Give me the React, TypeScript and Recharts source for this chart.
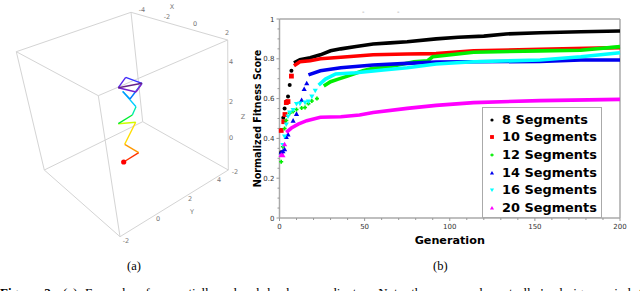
import { ScatterChart, Scatter, XAxis, YAxis, Legend, ReferenceLine } from 'recharts';

// Panel (b): fitness curves. Early generations are loose markers, the rest a thick run.
const segmentNames = ['8 Segments', '10 Segments', '12 Segments', '14 Segments', '16 Segments', '20 Segments'];
const segmentColors = ['#000000', '#ff0000', '#00ee00', '#0000ee', '#00ffff', '#ff00ff'];
const markerKinds = ['circle', 'square', 'plus', 'up', 'down', 'up'];

const blackEarlyGens = [1, 2.2, 3, 4, 5, 6, 7];
const blackEarlyScores = [0.33, 0.504, 0.55, 0.585, 0.61, 0.668, 0.74];
const blackGens = [8.5, 12, 18, 24, 30, 36, 45, 55, 65, 75, 92, 105, 120, 133, 153, 177, 200];
const blackScores = [0.78, 0.795, 0.805, 0.82, 0.84, 0.85, 0.862, 0.874, 0.88, 0.886, 0.9, 0.908, 0.914, 0.925, 0.931, 0.936, 0.94];

const redEarlyGens = [1, 2.5, 3.2, 4, 5, 7];
const redEarlyScores = [0.44, 0.484, 0.52, 0.58, 0.585, 0.713];
const redGens = [8.5, 12, 18, 24, 36, 55, 75, 92, 114, 153, 200];
const redScores = [0.765, 0.785, 0.79, 0.8, 0.808, 0.82, 0.824, 0.826, 0.84, 0.848, 0.856];

const greenEarlyGens = [1, 2, 3, 4, 6, 8, 10, 13, 15, 17, 19, 22];
const greenEarlyScores = [0.283, 0.358, 0.45, 0.49, 0.527, 0.535, 0.545, 0.553, 0.555, 0.575, 0.588, 0.6];
const greenGens = [26, 30, 34.5, 40, 49, 55, 67, 79, 87, 90, 94, 114, 153, 177, 200];
const greenScores = [0.663, 0.685, 0.698, 0.713, 0.74, 0.753, 0.764, 0.785, 0.79, 0.81, 0.814, 0.833, 0.84, 0.843, 0.861];

const blueEarlyGens = [1, 2, 3, 4, 5, 8, 10, 13, 14.5, 16];
const blueEarlyScores = [0.33, 0.335, 0.345, 0.407, 0.42, 0.489, 0.523, 0.593, 0.648, 0.677];
const blueGens = [17, 24, 36, 55, 75, 92, 114, 153, 177, 200];
const blueScores = [0.719, 0.74, 0.755, 0.769, 0.777, 0.784, 0.785, 0.787, 0.794, 0.794];

const cyanEarlyGens = [2, 3, 4, 5, 6, 8, 10, 12, 15, 17, 19, 21];
const cyanEarlyScores = [0.367, 0.41, 0.47, 0.51, 0.53, 0.543, 0.573, 0.575, 0.58, 0.585, 0.61, 0.64];
const cyanGens = [23, 27, 33, 45, 61, 75, 92, 114, 153, 177, 200];
const cyanScores = [0.668, 0.698, 0.724, 0.73, 0.744, 0.755, 0.774, 0.785, 0.794, 0.81, 0.83];

const magentaEarlyGens = [1, 2, 3];
const magentaEarlyScores = [0.317, 0.315, 0.37];
const magentaGens = [4, 7, 11, 16, 24, 36, 47, 55, 75, 92, 114, 153, 200];
const magentaScores = [0.43, 0.452, 0.472, 0.489, 0.506, 0.509, 0.518, 0.53, 0.551, 0.566, 0.58, 0.59, 0.596];

const earlyGens = [blackEarlyGens, redEarlyGens, greenEarlyGens, blueEarlyGens, cyanEarlyGens, magentaEarlyGens];
const earlyScores = [blackEarlyScores, redEarlyScores, greenEarlyScores, blueEarlyScores, cyanEarlyScores, magentaEarlyScores];
const runGens = [blackGens, redGens, greenGens, blueGens, cyanGens, magentaGens];
const runScores = [blackScores, redScores, greenScores, blueScores, cyanScores, magentaScores];

const xTicks = [0, 10, 20, 30, 40, 50, 60, 70, 80, 90, 100, 110, 120, 130, 140, 150, 160, 170, 180, 190, 200];
const yTicks = [0, 0.05, 0.1, 0.15, 0.2, 0.25, 0.3, 0.35, 0.4, 0.45, 0.5, 0.55, 0.6, 0.65, 0.7, 0.75, 0.8, 0.85, 0.9, 0.95, 1];
const xLabelled = [0, 50, 100, 150, 200];
const yLabelled = [0, 0.2, 0.4, 0.6, 0.8, 1];

// Panel (a): projected 3D plot, in the panel's own units
const cubeStartX = [131, 131, 16.3, 98.3, 131, 227.7, 16.3, 98.3, 142.7, 142.7, 44.3, 120];
const cubeStartY = [12.3, 12.3, 51.7, 95.7, 12.3, 40, 51.7, 95.7, 121.7, 121.7, 170, 236.7];
const cubeEndX = [227.7, 16.3, 98.3, 227.7, 142.7, 228.3, 44.3, 120, 228.3, 44.3, 120, 228.3];
const cubeEndY = [40, 51.7, 95.7, 40, 121.7, 170, 170, 236.7, 170, 170, 236.7, 170];

const trailX = [123.7, 138.7, 124.7, 135.7, 118.3, 132.3, 136, 122.7, 130, 142, 125.7, 118.3, 136, 142, 118.3];
const trailY = [162, 152.7, 144.3, 122.3, 123.7, 115, 106.7, 91.4, 99, 83.3, 77.3, 87.7, 92, 83.3, 87.7];
const trailColors = ['#ff3300', '#ff9900', '#ffdd00', '#ccff00', '#00ee33', '#00eeaa', '#00ccff', '#0099ff', '#0077ff', '#3333ff', '#5522ee', '#7722cc', '#8822cc', '#662288'];

const plotLabels = ['-4', '-2', '0', '2', 'X', '4', '2', '0', '-2', 'Z', '4', '2', '0', '-2', 'Y'];
const plotLabelX = [142, 167, 195, 227, 172, 231, 231, 231, 235, 243, 219, 190, 158, 126, 192];
const plotLabelY = [10, 17, 24, 33, 7, 62, 102, 138, 172, 117, 180, 199, 219, 241, 212];

const toPoints = (xs: number[], ys: number[]) => xs.map((x, i) => ({ x, y: ys[i] }));

const boldFont = '"DejaVu Sans", sans-serif';

function markerPath(kind: string, cx: number, cy: number, color: string, k = 1) {
  if (kind === 'circle') return <circle cx={cx} cy={cy} r={2 * k} fill={color} />;
  if (kind === 'square') return <rect x={cx - 2.4 * k} y={cy - 2.4 * k} width={4.8 * k} height={4.8 * k} fill={color} />;
  if (kind === 'plus') return <path d={`M${cx - 2 * k} ${cy}H${cx + 2 * k}M${cx} ${cy - 2 * k}V${cy + 2 * k}`} stroke={color} strokeWidth={1.6 * k} />;
  if (kind === 'up') return <path d={`M${cx} ${cy - 2.6 * k}L${cx + 2.6 * k} ${cy + 2 * k}H${cx - 2.6 * k}Z`} fill={color} />;
  return <path d={`M${cx} ${cy + 2.6 * k}L${cx + 2.6 * k} ${cy - 2 * k}H${cx - 2.6 * k}Z`} fill={color} />;
}

const noMarker = () => <g />;

function ScoreLegend() {
  return (
    <div style={{ boxSizing: 'border-box', width: 120, height: 111, background: '#fff', border: '1.5px solid #aaa', paddingTop: 3 }}>
      {segmentNames.map((name, i) => (
        <div key={name} style={{ position: 'relative', height: 17.7, lineHeight: '17.7px', paddingLeft: 19, fontFamily: boldFont, fontWeight: 700, fontSize: 12.9, color: '#000', whiteSpace: 'nowrap' }}>
          <svg width={10} height={10} style={{ position: 'absolute', left: 4, top: 4 }}>
            {markerPath(markerKinds[i], 5, 5, segmentColors[i], 0.8)}
          </svg>
          {name}
        </div>
      ))}
    </div>
  );
}

function XTick({ x, y, payload }: any) {
  const labelled = xLabelled.includes(payload.value);
  return (
    <g>
      <line x1={x} x2={x} y1={y - 8} y2={y - 8 + (labelled ? 3 : 2)} stroke="#999" />
      {labelled && <text x={x} y={y + 3} textAnchor="middle" fontSize={7} fontFamily={boldFont} fill="#333">{payload.value}</text>}
    </g>
  );
}

function YTick({ x, y, payload }: any) {
  const labelled = yLabelled.includes(payload.value);
  return (
    <g>
      <line x1={x + 8} x2={x + 8 - (labelled ? 3 : 2)} y1={y} y2={y} stroke="#999" />
      {labelled && <text x={x + 3} y={y + 2.5} textAnchor="end" fontSize={7} fontFamily={boldFont} fill="#333">{payload.value}</text>}
    </g>
  );
}

function FitnessChart() {
  return (
    <ScatterChart width={400} height={291} margin={{ top: 19, right: 20, bottom: 43, left: 0 }} style={{ position: 'absolute', left: 240, top: 0 }}>
      <XAxis
        type="number"
        dataKey="x"
        domain={[0, 200]}
        ticks={xTicks}
        interval={0}
        height={30}
        tick={XTick}
        tickLine={false}
        axisLine={{ stroke: '#aaa', strokeWidth: 1.5 }}
        label={{ value: 'Generation', position: 'insideBottom', offset: 4, style: { fontFamily: boldFont, fontWeight: 700, fontSize: 11.2, fill: '#000' } }}
      />
      <YAxis
        type="number"
        dataKey="y"
        domain={[0, 1]}
        ticks={yTicks}
        interval={0}
        width={39.5}
        tick={YTick}
        tickLine={false}
        axisLine={{ stroke: '#aaa', strokeWidth: 1.5 }}
        label={{ value: 'Normalized Fitness Score', angle: -90, position: 'insideLeft', offset: 18, textAnchor: 'middle', style: { fontFamily: boldFont, fontWeight: 700, fontSize: 9.6, fill: '#000' } }}
      />
      <ReferenceLine x={200} stroke="#aaa" strokeWidth={1.5} />
      <ReferenceLine y={1} stroke="#aaa" strokeWidth={1.5} />
      {segmentNames.map((name, i) => (
        <Scatter
          key={name}
          name={name}
          data={toPoints(earlyGens[i], earlyScores[i])}
          fill={segmentColors[i]}
          shape={(p: any) => markerPath(markerKinds[i], p.cx, p.cy, segmentColors[i])}
          isAnimationActive={false}
        />
      ))}
      {segmentNames.map((name, i) => (
        <Scatter
          key={name + ' run'}
          data={toPoints(runGens[i], runScores[i])}
          line={{ stroke: segmentColors[i], strokeWidth: 3.6 }}
          shape={noMarker}
          isAnimationActive={false}
        />
      ))}
      <Legend
        layout="vertical"
        align="center"
        verticalAlign="middle"
        content={ScoreLegend}
        wrapperStyle={{ left: 242, top: 106.5, width: 120, height: 111 }}
      />
    </ScatterChart>
  );
}

function CubeChart() {
  return (
    <ScatterChart width={250} height={291} margin={{ top: 0, right: 0, bottom: 0, left: 0 }} style={{ position: 'absolute', left: 0, top: 0 }}>
      <XAxis type="number" dataKey="x" domain={[0, 250]} hide />
      <YAxis type="number" dataKey="y" domain={[0, 291]} reversed hide />
      {cubeStartX.map((x, i) => (
        <Scatter
          key={'edge' + i}
          data={[{ x, y: cubeStartY[i] }, { x: cubeEndX[i], y: cubeEndY[i] }]}
          line={{ stroke: '#d4d4d4', strokeWidth: 1 }}
          shape={noMarker}
          isAnimationActive={false}
        />
      ))}
      {trailColors.map((color, i) => (
        <Scatter
          key={'trail' + i}
          data={[{ x: trailX[i], y: trailY[i] }, { x: trailX[i + 1], y: trailY[i + 1] }]}
          line={{ stroke: color, strokeWidth: 1.4 }}
          shape={noMarker}
          isAnimationActive={false}
        />
      ))}
      <Scatter
        data={[{ x: trailX[0], y: trailY[0] }]}
        shape={(p: any) => <circle cx={p.cx} cy={p.cy} r={2.6} fill="#ff0000" />}
        isAnimationActive={false}
      />
      <Scatter
        data={toPoints(plotLabelX, plotLabelY)}
        shape={(p: any) => (
          <text x={p.cx} y={p.cy + 2} textAnchor="middle" fontSize={6.5} fontFamily={boldFont} fill="#777">
            {plotLabels[p.index]}
          </text>
        )}
        isAnimationActive={false}
      />
    </ScatterChart>
  );
}

const serif = '"Liberation Serif", serif';

export default function App() {
  return (
    <div style={{ position: 'fixed', left: 0, top: 0, width: 640, height: 291, overflow: 'hidden', background: '#fff' }}>
      <CubeChart />
      <FitnessChart />
      <div style={{ position: 'absolute', left: 127, top: 259, fontFamily: serif, fontSize: 12.5 }}>(a)</div>
      <div style={{ position: 'absolute', left: 433, top: 259, fontFamily: serif, fontSize: 12.5 }}>(b)</div>
      <div style={{ position: 'absolute', left: 0, top: 285, fontFamily: serif, fontSize: 13, whiteSpace: 'nowrap', wordSpacing: 4.5 }}>
        <b>Figure 2:</b> (a) Example of a spatially-ordered lander coordinates. Note the proposed controller's design period (
      </div>
      <div style={{ position: 'absolute', left: 362, top: 8, fontFamily: boldFont, fontSize: 7, color: '#999' }}>-</div>
      <div style={{ position: 'absolute', left: 397, top: 8, fontFamily: boldFont, fontSize: 7, color: '#999' }}>-</div>
    </div>
  );
}
